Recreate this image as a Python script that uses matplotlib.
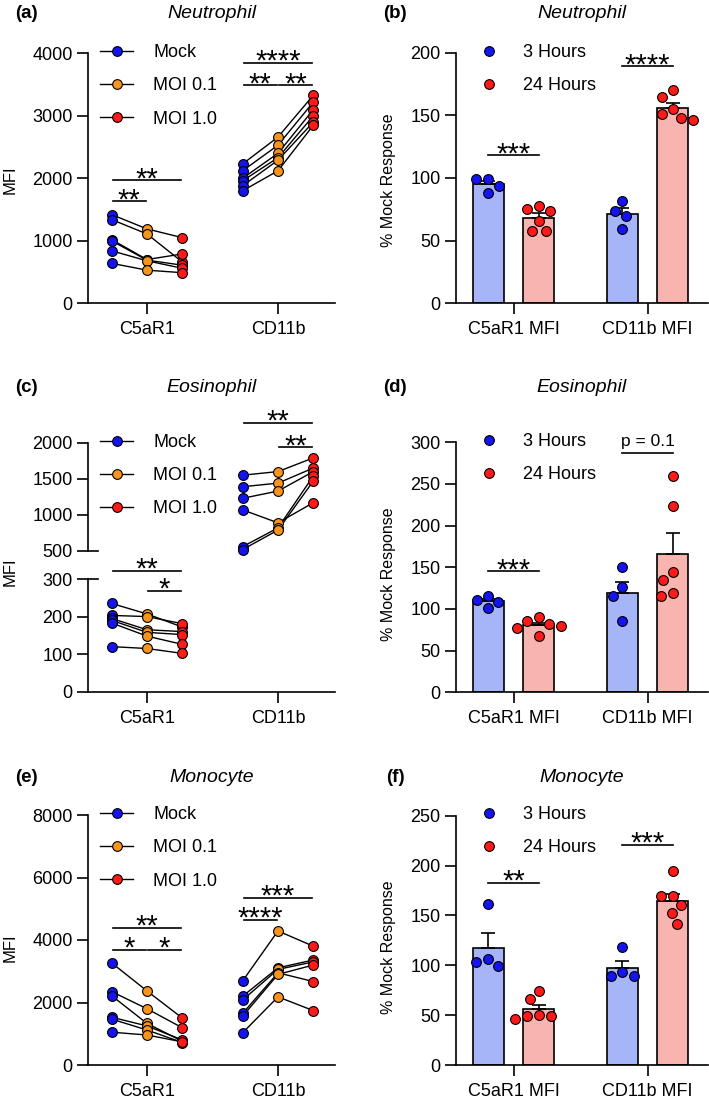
import numpy as np
import matplotlib.pyplot as plt
import matplotlib.transforms as mtransforms
from matplotlib.lines import Line2D

plt.rcParams['font.family'] = ['Liberation Sans', 'DejaVu Sans']

# ---------------- data ----------------
markers = ["C5aR1", "CD11b"]
conditions = ["Mock", "MOI 0.1", "MOI 1.0"]
cond_colors = ['#1414f0', '#f7941d', '#ff1a1a']

# one row per donor: Mock, MOI 0.1, MOI 1.0
neut_c5ar1 = [[1420, 1190, 1050], [1340, 1110, 660], [1020, 700, 790],
              [1000, 690, 610], [840, 680, 560], [640, 530, 490]]
neut_cd11b = [[2230, 2660, 3330], [2120, 2530, 3220], [2000, 2400, 3100],
              [1960, 2330, 3000], [1880, 2290, 2900], [1800, 2120, 2850]]
eos_c5ar1 = [[235, 207, 172], [203, 200, 181], [195, 165, 160],
             [190, 158, 152], [183, 148, 126], [120, 115, 102]]
eos_cd11b = [[1550, 1600, 1790], [1390, 1440, 1650], [1230, 1330, 1600],
             [1070, 890, 1170], [560, 820, 1540], [520, 790, 1470]]
mono_c5ar1 = [[3270, 2370, 1500], [2350, 1800, 1190], [2220, 1330, 760],
              [1530, 1250, 800], [1470, 1120, 720], [1050, 960, 740]]
mono_cd11b = [[2690, 4290, 3800], [2200, 3110, 3360], [2080, 3060, 3300],
              [1650, 2950, 2670], [1560, 2900, 3200], [1030, 2180, 1740]]

times = ["3 Hours", "24 Hours"]
bar_labels = ["C5aR1 MFI", "CD11b MFI"]
bar_fill = ['#a6b5f7', '#f8b4ae']
dot_colors = ['#1414f0', '#ff1a1a']

neut_3h_c5 = [99, 99, 94, 88]
neut_24h_c5 = [75, 78, 74, 66, 58, 58]
neut_3h_cd = [74, 82, 70, 59]
neut_24h_cd = [170, 165, 155, 148, 146, 151]
eos_3h_c5 = [116, 111, 108, 101]
eos_24h_c5 = [80, 85, 90, 82, 77, 67]
eos_3h_cd = [126, 150, 116, 86]
eos_24h_cd = [259, 224, 135, 144, 115, 119]
mono_3h_c5 = [161, 99, 106, 103]
mono_24h_c5 = [74, 66, 46, 50, 49, 49]
mono_3h_cd = [118, 89, 93, 89]
mono_24h_cd = [195, 169, 169, 160, 152, 141]

# significance: (group, cond_i, cond_j, y, label)
neut_sig = [(0, 0, 1, 1630, "**"), (0, 0, 2, 1970, "**"),
            (1, 0, 1, 3490, "**"), (1, 1, 2, 3490, "**"), (1, 0, 2, 3850, "****")]
eos_sig_low = [(0, 0, 2, 322, "**"), (0, 1, 2, 268, "*")]
eos_sig_up = [(1, 0, 2, 2276, "**"), (1, 1, 2, 1936, "**")]
mono_sig = [(0, 0, 2, 4394, "**"), (0, 0, 1, 3680, "*"), (0, 1, 2, 3680, "*"),
            (1, 0, 2, 5354, "***"), (1, 0, 1, 4640, "****")]
# bar significance: (group, y, label)
neut_bar_sig = [(0, 118, "***"), (1, 189, "****")]
eos_bar_sig = [(0, 145, "***"), (1, 287, "p = 0.1")]
mono_bar_sig = [(0, 183, "**"), (1, 221, "***")]

# ---------------- layout ----------------
W, H = 709, 1103
fig = plt.figure(figsize=(W / 100, H / 100), dpi=100)

offs = np.array([-0.27, 0.0, 0.27])
bar_off = 0.187
bar_w = 0.236
LW = 1.2
DOT = 50


def px_axes(left, top, right, bottom):
    return fig.add_axes([left / W, 1 - bottom / H, (right - left) / W, (bottom - top) / H])


def style(ax):
    for s in ['top', 'right']:
        ax.spines[s].set_visible(False)
    for s in ['left', 'bottom']:
        ax.spines[s].set_linewidth(LW)
    ax.tick_params(direction='out', length=8, width=LW, labelsize=13, pad=3)
    ax.tick_params(axis='x', pad=5)


def star_text(ax, x, y, label):
    if label.startswith('p'):
        tr = mtransforms.offset_copy(ax.transData, fig, y=5, units='points')
        ax.text(x, y, label, ha='center', va='baseline', fontsize=12.5,
                transform=tr, clip_on=False)
    else:
        tr = mtransforms.offset_copy(ax.transData, fig, y=-5, units='points')
        ax.text(x, y, label, ha='center', va='baseline', fontsize=21,
                transform=tr, clip_on=False)


def bracket(ax, x1, x2, y, label):
    ax.plot([x1, x2], [y, y], color='k', lw=LW, clip_on=False)
    star_text(ax, (x1 + x2) / 2, y, label)


def paired(ax, g, data):
    arr = np.array(data)
    xs = g + offs
    for row in arr:
        ax.plot(xs, row, color='k', lw=1, zorder=2, clip_on=False)
    for j in range(3):
        ax.scatter(np.full(len(arr), xs[j]), arr[:, j], s=DOT, c=cond_colors[j],
                   edgecolors='k', linewidths=0.8, zorder=3, clip_on=False)


def line_sig(ax, sigs):
    for g, i, j, y, lab in sigs:
        bracket(ax, g + offs[i] + 0.01, g + offs[j] - 0.01, y, lab)


def line_legend(ax, left_px, row1_px):
    handles = [Line2D([0], [0], color='k', lw=1, marker='o', mfc=c, mec='k',
                      mew=0.8, ms=7) for c in cond_colors]
    ax.legend(handles, conditions, loc='upper left',
              bbox_to_anchor=(left_px / W, 1 - (row1_px - 9) / H),
              bbox_transform=fig.transFigure, frameon=False, fontsize=13,
              handlelength=1.85, handletextpad=1.1, labelspacing=0.9,
              borderpad=0, borderaxespad=0)


def bar_legend(ax, left_px, row1_px):
    handles = [Line2D([0], [0], ls='none', marker='o', mfc=c, mec='k',
                      mew=0.8, ms=7) for c in dot_colors]
    ax.legend(handles, times, loc='upper left',
              bbox_to_anchor=(left_px / W, 1 - (row1_px - 9) / H),
              bbox_transform=fig.transFigure, frameon=False, fontsize=13,
              handlelength=1.85, handletextpad=1.0, labelspacing=0.9,
              borderpad=0, borderaxespad=0)


def swarm_x(ax, center, vals, diam_px=12.0):
    # simple beeswarm: each point goes to the nearest free horizontal slot
    inv = ax.transData.inverted()
    placed = []
    xs = []
    cands = [0.0]
    for n in range(1, 50):
        cands += [-n * 0.5, n * 0.5]
    for v in vals:
        cx, py = ax.transData.transform((center, v))
        for c in cands:
            px = cx + c
            if all(np.hypot(px - qx, py - qy) >= diam_px for qx, qy in placed):
                break
        placed.append((px, py))
        xs.append(inv.transform((px, py))[0])
    return xs


def bar_panel(ax, groups, ylim, yticks, sigs):
    ax.set_xlim(-0.429, 1.451)
    ax.set_ylim(*ylim)
    ax.set_yticks(yticks)
    ax.set_xticks([0, 1])
    ax.set_xticklabels(bar_labels)
    style(ax)
    for g, pair in enumerate(groups):
        for t, vals in enumerate(pair):
            vals = np.array(vals, dtype=float)
            xc = g + (t * 2 - 1) * bar_off
            m = vals.mean()
            sem = vals.std(ddof=1) / np.sqrt(len(vals))
            ax.bar(xc, m, width=bar_w, color=bar_fill[t], edgecolor='k', lw=LW, zorder=1)
            ax.errorbar(xc, m, yerr=[[0], [sem]], color='k', lw=LW, capsize=5,
                        capthick=LW, zorder=2)
            order = np.argsort(-vals)
            ax.scatter(swarm_x(ax, xc, vals[order]), vals[order], s=DOT, c=dot_colors[t],
                       edgecolors='k', linewidths=0.8, zorder=3, clip_on=False)
    for g, y, lab in sigs:
        bracket(ax, g - bar_off, g + bar_off, y, lab)


def line_axes_common(ax):
    ax.set_xlim(-0.45, 1.435)
    style(ax)


def titles(row_px, letter_l, letter_r, name):
    fig.text(26 / W, 1 - row_px / H, letter_l, ha='center', va='center',
             fontsize=13.5, fontweight='bold')
    fig.text(395 / W, 1 - row_px / H, letter_r, ha='center', va='center',
             fontsize=13.5, fontweight='bold')
    fig.text(211.5 / W, 1 - row_px / H, name, ha='center', va='center',
             fontsize=14, style='italic')
    fig.text(582 / W, 1 - row_px / H, name, ha='center', va='center',
             fontsize=14, style='italic')


def ylabels(y_l, y_r):
    fig.text(10 / W, 1 - y_l / H, "MFI", rotation=90, ha='center', va='center', fontsize=12)
    fig.text(388 / W, 1 - y_r / H, "% Mock Response", rotation=90, ha='center',
             va='center', fontsize=11.5)


# ---------- (a) ----------
ax_a = px_axes(88, 53.3, 335, 303.3)
line_axes_common(ax_a)
ax_a.set_ylim(0, 4000)
ax_a.set_yticks([0, 1000, 2000, 3000, 4000])
ax_a.set_xticks([0, 1])
ax_a.set_xticklabels(markers)
paired(ax_a, 0, neut_c5ar1)
paired(ax_a, 1, neut_cd11b)
line_sig(ax_a, neut_sig)
line_legend(ax_a, 100, 53)

# ---------- (b) ----------
ax_b = px_axes(456, 52.7, 708, 303.3)
bar_panel(ax_b, [(neut_3h_c5, neut_24h_c5), (neut_3h_cd, neut_24h_cd)],
          (0, 200), [0, 50, 100, 150, 200], neut_bar_sig)
bar_legend(ax_b, 472, 53)

# ---------- (c) broken axis ----------
ax_cu = px_axes(88, 442.7, 335, 551)
ax_cl = px_axes(88, 579, 335, 691.7)
for ax in (ax_cu, ax_cl):
    line_axes_common(ax)
ax_cu.spines['bottom'].set_visible(False)
ax_cu.tick_params(axis='x', bottom=False, labelbottom=False)
ax_cu.set_ylim(500, 2000)
ax_cu.set_yticks([500, 1000, 1500, 2000])
ax_cl.set_ylim(0, 300)
ax_cl.set_yticks([0, 100, 200, 300])
ax_cl.set_xticks([0, 1])
ax_cl.set_xticklabels(markers)
for ax, yb in ((ax_cu, 500), (ax_cl, 300)):
    tr = mtransforms.blended_transform_factory(ax.transAxes, ax.transData)
    ax.plot([0, 0.04], [yb, yb], color='k', lw=LW, transform=tr, clip_on=False)
paired(ax_cl, 0, eos_c5ar1)
paired(ax_cu, 1, eos_cd11b)
line_sig(ax_cl, eos_sig_low)
line_sig(ax_cu, eos_sig_up)
line_legend(ax_cu, 100, 443)

# ---------- (d) ----------
ax_d = px_axes(456, 442.3, 708, 692.3)
bar_panel(ax_d, [(eos_3h_c5, eos_24h_c5), (eos_3h_cd, eos_24h_cd)],
          (0, 300), [0, 50, 100, 150, 200, 250, 300], eos_bar_sig)
bar_legend(ax_d, 472, 442)

# ---------- (e) ----------
ax_e = px_axes(88, 815, 335, 1065)
line_axes_common(ax_e)
ax_e.set_ylim(0, 8000)
ax_e.set_yticks([0, 2000, 4000, 6000, 8000])
ax_e.set_xticks([0, 1])
ax_e.set_xticklabels(markers)
paired(ax_e, 0, mono_c5ar1)
paired(ax_e, 1, mono_cd11b)
line_sig(ax_e, mono_sig)
line_legend(ax_e, 100, 815)

# ---------- (f) ----------
ax_f = px_axes(456, 815.7, 708, 1065)
bar_panel(ax_f, [(mono_3h_c5, mono_24h_c5), (mono_3h_cd, mono_24h_cd)],
          (0, 250), [0, 50, 100, 150, 200, 250], mono_bar_sig)
bar_legend(ax_f, 472, 815)

titles(13, "(a)", "(b)", "Neutrophil")
titles(388, "(c)", "(d)", "Eosinophil")
titles(777, "(e)", "(f)", "Monocyte")
ylabels(180, 180)
ylabels(572, 574)
ylabels(948, 947)

fig.savefig("out.png", dpi=100)
